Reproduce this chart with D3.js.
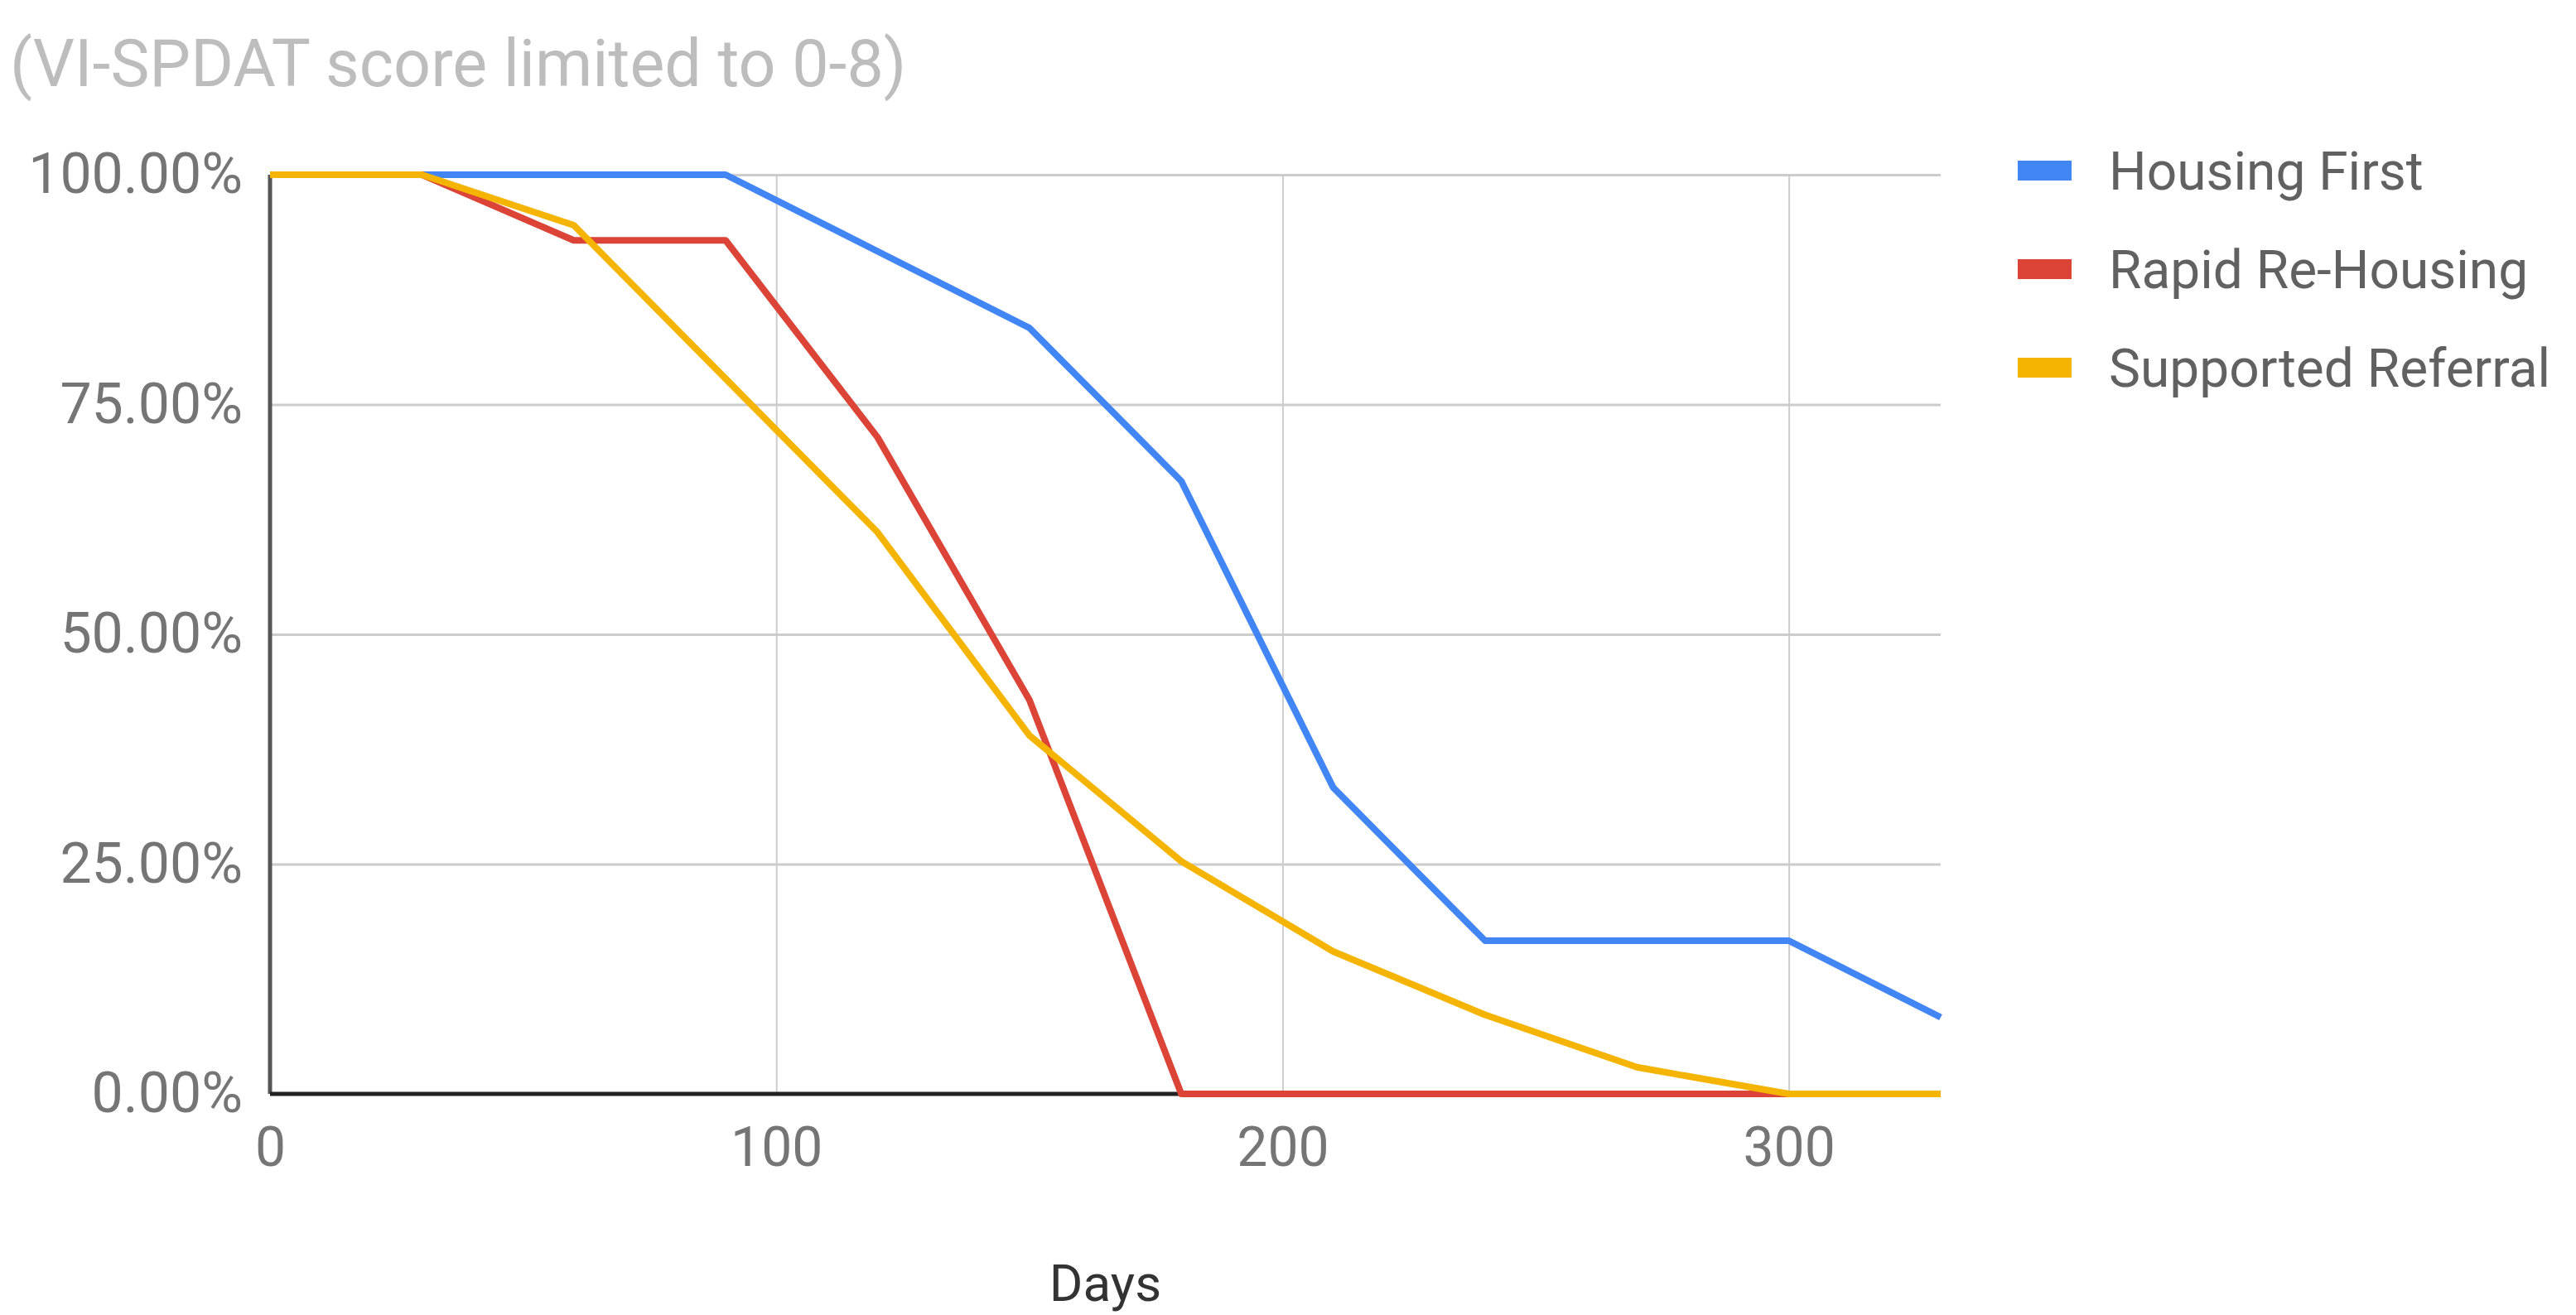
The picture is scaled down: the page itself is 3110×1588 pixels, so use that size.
<!DOCTYPE html>
<html>
<head>
<meta charset="utf-8">
<script src="https://cdn.jsdelivr.net/npm/d3@7"></script>
<style>
  body { margin: 0; background: #fff; }
  svg { display: block; font-family: Roboto, "Noto Sans", sans-serif; }
</style>
</head>
<body>
<div id="chart"></div>
<script>
// Survival-style line chart: share still homeless by days

// Part I. Data
var days = [0, 30, 60, 90, 120, 150, 180, 210, 240, 270, 300, 330];
var housingFirst = [1, 1, 1, 1, 0.9167, 0.8333, 0.6667, 0.3333, 0.1667, 0.1667, 0.1667, 0.0833];
var rapidReHousing = [1, 1, 0.9286, 0.9286, 0.7143, 0.4286, 0, 0, 0, 0, 0, 0];
var supportedReferral = [1, 1, 0.945, 0.778, 0.611, 0.39, 0.253, 0.155, 0.086, 0.029, 0, 0];
var seriesNames = ["Housing First", "Rapid Re-Housing", "Supported Referral"];
var xTicks = [0, 100, 200, 300];
var yTicks = [0, 0.25, 0.5, 0.75, 1];

var colors = ["#4285f4", "#db4437", "#f4b400"];
var seriesValues = [housingFirst, rapidReHousing, supportedReferral];

// Part II. Set up the dimensions
var svgWidth = 3110;
var svgHeight = 1588;
var margin = {top: 211, bottom: 267, left: 326, right: 767};
var width = svgWidth - margin.left - margin.right;
var height = svgHeight - margin.top - margin.bottom;

var svg = d3.select("#chart")
    .append("svg")
    .attr("width", svgWidth)
    .attr("height", svgHeight);

// subtitle (top line of the title is cut off in the original)
svg.append("text")
    .attr("x", 12)
    .attr("y", 104)
    .attr("font-size", "79px")
    .attr("fill", "#bdbdbd")
    .text("(VI-SPDAT score limited to 0-8)");

var chartGroup = svg.append("g")
    .attr("transform", "translate(" + margin.left + "," + margin.top + ")");

var xScale = d3.scaleLinear().domain([0, 330]).range([0, width]);
var yScale = d3.scaleLinear().domain([0, 1]).range([height, 0]);

// gridlines
chartGroup.append("g")
    .attr("class", "ygrid")
    .call(d3.axisLeft(yScale).tickValues(yTicks).tickSize(-width).tickFormat(""))
    .call(g => g.select(".domain").remove())
    .call(g => g.selectAll("line").attr("stroke", "#cccccc").attr("stroke-width", 3));

chartGroup.append("g")
    .attr("class", "xgrid")
    .attr("transform", "translate(0," + height + ")")
    .call(d3.axisBottom(xScale).tickValues(xTicks).tickSize(-height).tickFormat(""))
    .call(g => g.select(".domain").remove())
    .call(g => g.selectAll("line").attr("stroke", "#cccccc").attr("stroke-width", 2));

// axis labels
var leftAxis = d3.axisLeft(yScale).tickValues(yTicks).tickFormat(d3.format(".2%")).tickSize(0).tickPadding(33);
chartGroup.append("g")
    .attr("class", "y")
    .call(leftAxis)
    .call(g => g.select(".domain").remove())
    .call(g => g.selectAll("text").attr("font-size", "68px").attr("fill", "#757575")
        .attr("font-family", "Roboto, sans-serif"));

var bottomAxis = d3.axisBottom(xScale).tickValues(xTicks).tickFormat(d3.format("d")).tickSize(0).tickPadding(40);
chartGroup.append("g")
    .attr("class", "x")
    .attr("transform", "translate(0," + height + ")")
    .call(bottomAxis)
    .call(g => g.select(".domain").remove())
    .call(g => g.selectAll("text").attr("font-size", "66px").attr("fill", "#757575")
        .attr("font-family", "Roboto, sans-serif"));

// axis lines
chartGroup.append("line")
    .attr("x1", 0).attr("x2", 0)
    .attr("y1", 0).attr("y2", height)
    .attr("stroke", "#555555")
    .attr("stroke-width", 5);

chartGroup.append("line")
    .attr("x1", 0).attr("x2", width)
    .attr("y1", height).attr("y2", height)
    .attr("stroke", "#222222")
    .attr("stroke-width", 5);

// series lines
var line = d3.line()
    .x((d, i) => xScale(days[i]))
    .y(d => yScale(d));

seriesValues.forEach((vals, k) => {
    chartGroup.append("path")
        .datum(vals)
        .attr("fill", "none")
        .attr("stroke", colors[k])
        .attr("stroke-width", 8)
        .attr("stroke-linejoin", "round")
        .attr("d", line);
});

// x axis title
svg.append("text")
    .attr("x", margin.left + width / 2)
    .attr("y", 1571)
    .attr("text-anchor", "middle")
    .attr("font-size", "62px")
    .attr("fill", "#333333")
    .text("Days");

// legend
var legend = svg.append("g")
    .attr("transform", "translate(2436,206)");

seriesNames.forEach((name, k) => {
    var row = legend.append("g").attr("transform", "translate(0," + (k * 119) + ")");
    row.append("rect")
        .attr("x", 0).attr("y", -12)
        .attr("width", 65).attr("height", 24)
        .attr("fill", colors[k]);
    row.append("text")
        .attr("x", 110)
        .attr("y", 23)
        .attr("font-size", "64px")
        .attr("fill", "#616161")
        .text(name);
});
</script>
</body>
</html>
